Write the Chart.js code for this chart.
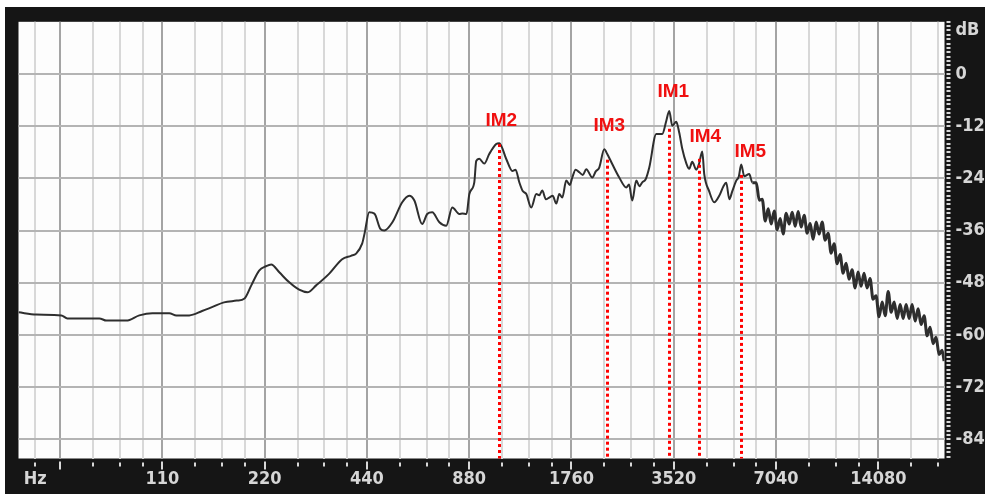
<!DOCTYPE html>
<html lang="en">
<head>
<meta charset="UTF-8">
<title>IM Spectrum</title>
<script src="https://cdn.jsdelivr.net/npm/chart.js"></script>
<style>
  * { margin: 0; padding: 0; box-sizing: border-box; }
  body { background: #ffffff; width: 988px; height: 498px; overflow: hidden; }
  canvas { display: block; }
</style>
</head>
<body>
<canvas id="spectrum" width="988" height="498"></canvas>
<script>
// frequency axis: labelled positions and their text
const xLabelHz = [46.5, 110, 220, 440, 880, 1760, 3520, 7040, 14080];
const xLabelText = ['Hz', '110', '220', '440', '880', '1760', '3520', '7040', '14080'];
// octave lines (drawn darker)
const octaveHz = [55, 110, 220, 440, 880, 1760, 3520, 7040, 14080];
const minorRatios = [1.25, 1.5, 1.75];

// level axis
const yLabelDb = [10, 0, -12, -24, -36, -48, -60, -72, -84];
const yLabelText = ['dB', '0', '-12', '-24', '-36', '-48', '-60', '-72', '-84'];

// measured spectrum
const freqHz = [
  41.5, 46.8, 55.5, 57.8, 71.8, 75.3, 86.2, 94.1, 102.8, 115.3,
  121, 132, 144, 154, 167, 182, 192, 201, 212, 222,
  230, 243, 260, 278, 294, 312, 341, 372, 395, 409,
  426, 433, 447, 463, 482, 495, 523, 559, 586, 607,
  640, 662, 685, 719, 753, 785, 823, 840, 864, 881,
  911, 923, 942, 975, 1008, 1057, 1079, 1132, 1179, 1205,
  1236, 1265, 1296, 1340, 1387, 1415, 1444, 1480, 1514, 1550,
  1588, 1620, 1654, 1699, 1740, 1770, 1810, 1856, 1900, 1946,
  2027, 2075, 2125, 2198, 2243, 2320, 2433, 2552, 2600, 2657,
  2730, 2790, 2844, 2910, 2982, 3127, 3256, 3346, 3414, 3485,
  3580, 3654, 3729, 3831, 3910, 3990, 4099, 4184, 4270, 4328,
  4477, 4632, 4791, 4930, 5024, 5130, 5232, 5376, 5470, 5561,
  5676, 5871, 6000, 6157, 6283, 6412, 6543, 6677, 6814, 6954,
  7096, 7242, 7390, 7542, 7697, 7855, 8016, 8180, 8348, 8519,
  8694, 8872, 9054, 9239, 9429, 9622, 9819, 10020, 10226, 10435,
  10649, 10868, 11091, 11318, 11550, 11787, 12029, 12276, 12527, 12784,
  13046, 13314, 13587, 13866, 14150, 14456, 14752, 15054, 15363, 15678,
  15999, 16327, 16662, 17003, 17352, 17708, 18071, 18441, 18819, 19205,
  19599, 20000, 20410, 20829, 21256, 21692, 21987
];
const levelDb = [
  -54.8, -55.3, -55.5, -56.2, -56.2, -56.7, -56.7, -55.5, -55.0, -55.0,
  -55.5, -55.5, -54.5, -53.6, -52.5, -52.1, -51.6, -48.6, -45.2, -44.2,
  -43.8, -45.6, -47.9, -49.6, -50.2, -48.6, -45.9, -42.6, -41.8, -41.3,
  -39.0, -36.7, -31.8, -32.1, -35.6, -36.0, -34.1, -29.5, -28.0, -29.1,
  -34.5, -32.2, -31.8, -34.1, -34.9, -30.7, -32.2, -32.1, -32.2, -27.6,
  -24.9, -20.0, -19.5, -20.6, -18.4, -16.1, -15.9, -19.6, -22.3, -22.0,
  -24.9, -26.9, -27.6, -30.7, -27.6, -27.9, -26.8, -28.8, -28.4, -28.0,
  -29.8, -27.6, -28.4, -24.5, -25.5, -23.8, -22.0, -22.6, -23.2, -21.9,
  -23.8, -22.4, -21.5, -17.3, -18.4, -20.7, -23.8, -26.1, -25.4, -29.1,
  -24.5, -25.8, -24.9, -24.2, -21.5, -13.8, -13.8, -10.8, -8.5, -11.9,
  -11.0, -13.5, -17.2, -20.5, -21.8, -20.2, -22.0, -20.5, -17.8, -23.0,
  -27.0, -29.5, -28.0, -25.8, -25.0, -28.8, -27.0, -24.5, -23.6, -20.8,
  -23.5, -23.0, -25.0, -25.0, -29.0, -28.8, -33.8, -31.0, -34.5, -31.5,
  -35.8, -33.2, -36.8, -32.0, -34.5, -31.8, -35.0, -31.6, -35.2, -32.5,
  -36.6, -34.4, -38.0, -34.0, -36.8, -34.0, -38.2, -36.6, -41.2, -39.0,
  -43.6, -41.5, -45.8, -43.5, -47.2, -45.0, -49.2, -45.5, -48.8, -45.8,
  -49.2, -47.0, -51.8, -51.0, -55.8, -52.4, -55.6, -50.0, -54.8, -52.4,
  -56.2, -53.0, -56.2, -53.0, -56.2, -53.0, -56.8, -54.0, -57.6, -55.6,
  -60.2, -58.2, -62.0, -60.5, -64.5, -63.5, -66.0
];

// intermodulation markers: where each dotted line starts, and where its name sits
const imNames = ['IM1', 'IM2', 'IM3', 'IM4', 'IM5'];
const imHz = [3414, 1079, 2243, 4184, 5561];
const imDb = [-12.6, -16.1, -19.7, -19.5, -23.2];
const imLabelHz = [3508, 1094, 2274, 4357, 5911];
const imLabelDb = [-4.0, -10.8, -11.8, -14.5, -17.8];

const X_MIN = 41.5, X_MAX = 22050;
const Y_MIN = -88.4, Y_MAX = 12;
// above this the trace is a dense noise band
const NOISY_FROM_HZ = 6000;

// every vertical grid position
const xGridHz = [...new Set([
  ...xLabelHz,
  ...octaveHz,
  ...octaveHz.flatMap(f => minorRatios.map(r => f * r))
])].filter(v => v > X_MIN && v < X_MAX).sort((a, b) => a - b);

const dbSteps = [];
for (let v = 12; v >= -88; v--) dbSteps.push(v);

const axisFont = {
  family: "'Liberation Sans Narrow', 'DejaVu Sans Condensed', sans-serif",
  size: 18,
  weight: 'bold'
};

const framePlugin = {
  id: 'frame',
  beforeDraw(chart) {
    const { ctx, chartArea: a } = chart;
    ctx.save();
    ctx.fillStyle = '#ffffff';
    ctx.fillRect(0, 0, chart.width, chart.height);
    ctx.fillStyle = '#151515';
    ctx.fillRect(5, 7, 980, 487);
    ctx.fillStyle = '#fdfdfd';
    ctx.fillRect(a.left, a.top, a.right - a.left, a.bottom - a.top);
    ctx.restore();
  }
};

const ticksPlugin = {
  id: 'tickMarks',
  afterDraw(chart) {
    const { ctx, chartArea: a, scales } = chart;
    ctx.save();
    ctx.strokeStyle = '#d8d8d8';
    ctx.lineWidth = 2;
    ctx.beginPath();
    xGridHz.forEach(f => {
      const x = Math.round(scales.x.getPixelForValue(f));
      const long = octaveHz.includes(f);
      ctx.moveTo(x, a.bottom + (long ? 3 : 4));
      ctx.lineTo(x, a.bottom + (long ? 11 : 8));
    });
    ctx.stroke();
    ctx.beginPath();
    dbSteps.forEach(v => {
      const y = Math.round(scales.y.getPixelForValue(v));
      ctx.moveTo(a.right + 2, y);
      ctx.lineTo(a.right + 6, y);
    });
    ctx.stroke();
    ctx.restore();
  }
};

const markerPlugin = {
  id: 'imMarkers',
  afterDatasetsDraw(chart) {
    const { ctx, chartArea: a, scales } = chart;
    ctx.save();
    ctx.strokeStyle = '#ff0000';
    ctx.lineWidth = 3;
    ctx.setLineDash([3, 3]);
    imHz.forEach((f, i) => {
      const x = Math.round(scales.x.getPixelForValue(f)) + 0.5;
      ctx.beginPath();
      ctx.moveTo(x, scales.y.getPixelForValue(imDb[i]));
      ctx.lineTo(x, a.bottom);
      ctx.stroke();
    });
    ctx.setLineDash([]);
    ctx.fillStyle = '#f01010';
    ctx.font = "bold 19px 'Liberation Sans', Arial, sans-serif";
    ctx.textAlign = 'center';
    ctx.textBaseline = 'middle';
    imNames.forEach((name, i) => {
      ctx.fillText(name, scales.x.getPixelForValue(imLabelHz[i]), scales.y.getPixelForValue(imLabelDb[i]));
    });
    ctx.restore();
  }
};

new Chart(document.getElementById('spectrum'), {
  type: 'line',
  data: {
    datasets: [{
      data: freqHz.map((f, i) => ({ x: f, y: levelDb[i] })),
      borderColor: '#2e2e2e',
      borderWidth: 2,
      pointRadius: 0,
      cubicInterpolationMode: 'monotone',
      fill: false,
      segment: {
        borderWidth: c => c.p0.parsed.x >= NOISY_FROM_HZ ? 3 : 2
      }
    }]
  },
  options: {
    responsive: false,
    animation: false,
    events: [],
    layout: { padding: { left: 18.5, top: 20.7, right: 0, bottom: 0 } },
    plugins: {
      legend: { display: false },
      tooltip: { enabled: false }
    },
    scales: {
      x: {
        type: 'logarithmic',
        min: X_MIN,
        max: X_MAX,
        afterBuildTicks: s => { s.ticks = xGridHz.map(v => ({ value: v })); },
        afterFit: s => { s.height = 39.5; },
        border: { display: false },
        grid: {
          drawTicks: false,
          lineWidth: 2,
          color: c => (c.tick && octaveHz.includes(c.tick.value)) ? '#a4a4a4' : '#d8d8d8'
        },
        ticks: {
          autoSkip: false,
          maxRotation: 0,
          padding: 10,
          color: '#d6d6d6',
          font: axisFont,
          callback: v => {
            const i = xLabelHz.indexOf(v);
            return i < 0 ? '' : xLabelText[i];
          }
        }
      },
      y: {
        type: 'linear',
        position: 'right',
        min: Y_MIN,
        max: Y_MAX,
        afterBuildTicks: s => { s.ticks = dbSteps.map(v => ({ value: v })); },
        afterFit: s => { s.width = 43.5; },
        border: { display: false },
        grid: {
          drawTicks: false,
          lineWidth: 2,
          color: c => (c.tick && yLabelDb.includes(c.tick.value) && c.tick.value <= 0) ? '#b4b4b4' : 'rgba(0,0,0,0)'
        },
        ticks: {
          autoSkip: false,
          padding: 11,
          color: '#d6d6d6',
          font: axisFont,
          callback: v => {
            const i = yLabelDb.indexOf(v);
            return i < 0 ? '' : yLabelText[i];
          }
        }
      }
    }
  },
  plugins: [framePlugin, ticksPlugin, markerPlugin]
});
</script>
</body>
</html>
